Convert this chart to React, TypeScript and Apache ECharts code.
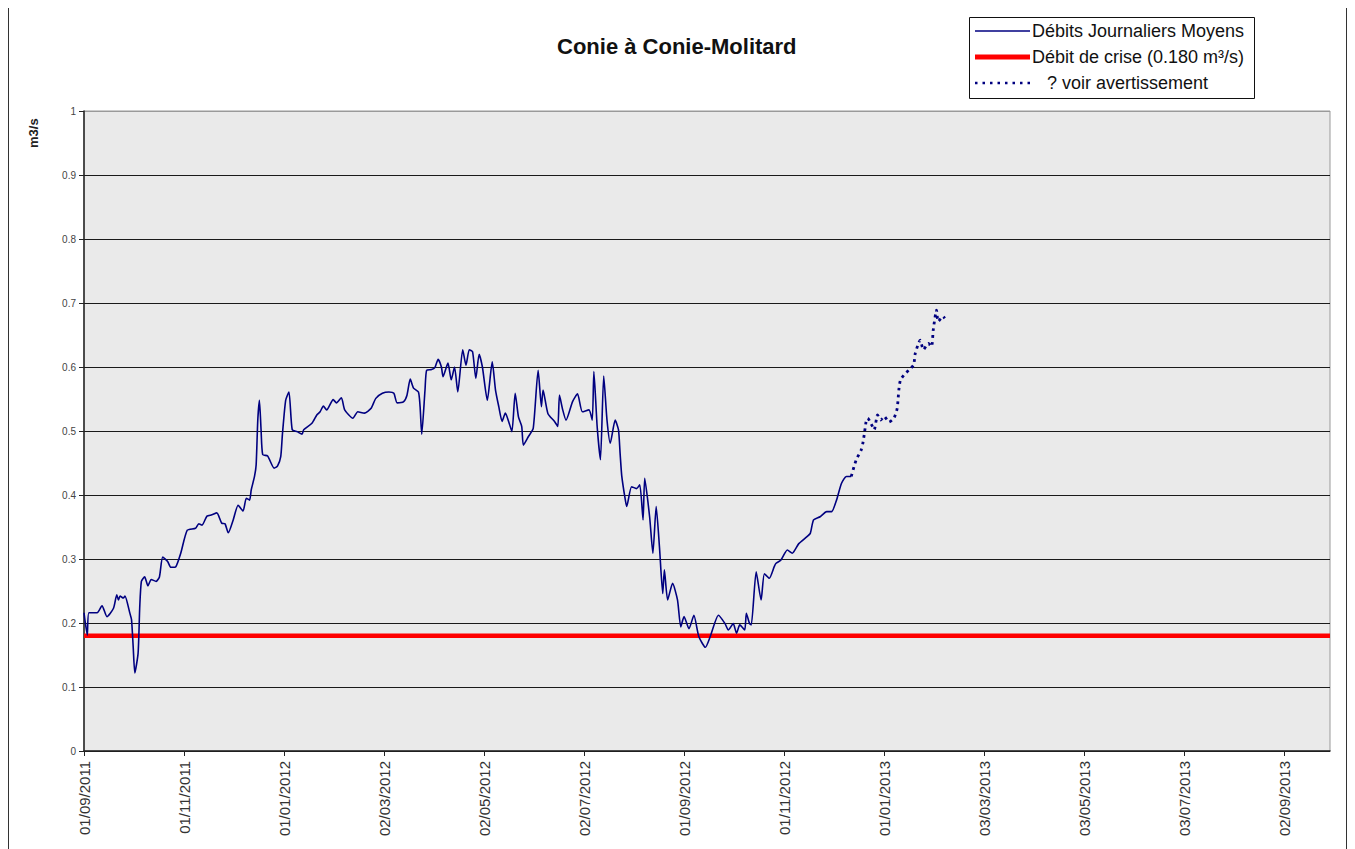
import { useEffect, useRef } from "react";
import * as echarts from "echarts";

// Day offsets from 01/09/2011 and daily mean discharge (m3/s)
const flowDays = [0, 2, 3, 8, 11, 14, 18, 20, 21, 22, 24, 25, 28, 29, 30, 31, 33, 34, 35, 37, 39, 41, 44, 46, 48, 51, 53, 56, 59, 63, 68, 70, 72, 75, 78, 81, 84, 86, 88, 91, 94, 97, 99, 101, 102, 104, 105, 106, 107, 108, 109, 112, 116, 118, 120, 121, 123, 125, 127, 130, 133, 134, 139, 142, 144, 146, 148, 152, 154, 157, 159, 164, 167, 171, 175, 178, 182, 186, 189, 191, 195, 197, 199, 201, 204, 205, 206, 208, 209, 212, 214, 216, 218, 219, 222, 224, 226, 228, 231, 233, 235, 237, 239, 241, 243, 246, 249, 251, 253, 255, 257, 259, 261, 263, 265, 267, 268, 271, 274, 277, 279, 280, 283, 287, 289, 290, 292, 294, 298, 301, 304, 308, 310, 311, 313, 315, 317, 319, 321, 324, 326, 327, 328, 330, 331, 334, 337, 339, 341, 342, 345, 347, 349, 351, 353, 354, 356, 359, 362, 364, 366, 369, 372, 375, 379, 382, 387, 391, 393, 396, 398, 400, 403, 404, 406, 407, 410, 413, 415, 418, 421, 422, 425, 429, 432, 436, 441, 443, 445, 449, 453, 456, 459, 462, 465, 468];
const flowValues = [0.216, 0.181, 0.216, 0.216, 0.227, 0.21, 0.223, 0.244, 0.236, 0.242, 0.239, 0.242, 0.215, 0.205, 0.163, 0.122, 0.153, 0.225, 0.265, 0.272, 0.258, 0.268, 0.265, 0.272, 0.303, 0.296, 0.287, 0.288, 0.309, 0.345, 0.348, 0.355, 0.353, 0.367, 0.369, 0.372, 0.356, 0.355, 0.341, 0.361, 0.384, 0.375, 0.395, 0.392, 0.408, 0.429, 0.447, 0.517, 0.548, 0.502, 0.463, 0.461, 0.442, 0.445, 0.46, 0.494, 0.548, 0.561, 0.502, 0.499, 0.495, 0.502, 0.512, 0.525, 0.53, 0.539, 0.533, 0.549, 0.544, 0.552, 0.533, 0.52, 0.53, 0.528, 0.535, 0.551, 0.559, 0.561, 0.559, 0.544, 0.546, 0.556, 0.581, 0.567, 0.561, 0.538, 0.495, 0.564, 0.595, 0.596, 0.599, 0.612, 0.6, 0.585, 0.606, 0.58, 0.6, 0.561, 0.627, 0.603, 0.627, 0.624, 0.582, 0.62, 0.6, 0.548, 0.608, 0.564, 0.538, 0.515, 0.528, 0.515, 0.499, 0.559, 0.522, 0.507, 0.478, 0.491, 0.504, 0.595, 0.538, 0.564, 0.527, 0.515, 0.507, 0.556, 0.533, 0.517, 0.546, 0.558, 0.53, 0.533, 0.517, 0.593, 0.507, 0.455, 0.586, 0.517, 0.481, 0.517, 0.502, 0.465, 0.43, 0.395, 0.382, 0.413, 0.41, 0.416, 0.361, 0.426, 0.366, 0.309, 0.382, 0.319, 0.246, 0.283, 0.236, 0.262, 0.236, 0.194, 0.21, 0.191, 0.212, 0.179, 0.162, 0.179, 0.212, 0.199, 0.189, 0.199, 0.184, 0.197, 0.189, 0.215, 0.199, 0.197, 0.28, 0.236, 0.277, 0.27, 0.288, 0.293, 0.298, 0.314, 0.309, 0.324, 0.335, 0.34, 0.361, 0.366, 0.374, 0.374, 0.392, 0.418, 0.429, 0.429];

// Provisional values ("? voir avertissement")
const warnDays = [468, 471, 474, 475, 476, 477, 478, 480, 482, 484, 486, 488, 491, 494, 496, 497, 498, 500, 503, 506, 507, 509, 510, 512, 515, 517, 518, 520, 521, 524, 525];
const warnValues = [0.429, 0.455, 0.47, 0.48, 0.496, 0.514, 0.52, 0.512, 0.502, 0.525, 0.517, 0.523, 0.514, 0.52, 0.535, 0.564, 0.58, 0.587, 0.595, 0.603, 0.621, 0.637, 0.642, 0.627, 0.637, 0.632, 0.658, 0.689, 0.671, 0.679, 0.676];

const crisisValue = 0.18;
const axisEndDay = 760;

const tickDays = [0, 61, 122, 183, 244, 305, 366, 427, 488, 549, 610, 671, 732];
const tickLabels = ["01/09/2011", "01/11/2011", "01/01/2012", "02/03/2012", "02/05/2012", "02/07/2012", "01/09/2012", "01/11/2012", "01/01/2013", "03/03/2013", "03/05/2013", "03/07/2013", "02/09/2013"];

const titleText = "Conie à Conie-Molitard";
const legendNames = ["Débits Journaliers Moyens", "Débit de crise (0.180 m³/s)", "? voir avertissement"];
const yName = "m3/s";

const FONT = "'Liberation Sans', Arial, sans-serif";
const NAVY = "#000080";

export default function App() {
  const ref = useRef<HTMLDivElement>(null);
  useEffect(() => {
    if (!ref.current) return;
    const chart = echarts.init(ref.current, null, { renderer: "svg" });
    const flowData = flowDays.map((d, i) => [d, flowValues[i]]);
    const warnData = warnDays.map((d, i) => [d, warnValues[i]]);
    const splitColors = Array.from({ length: 11 }, (_, i) => (i === 10 ? "#9a9a9a" : "#1a1a1a"));
    chart.setOption({
      animation: false,
      backgroundColor: "#ffffff",
      textStyle: { fontFamily: FONT },
      grid: {
        left: 84,
        right: 25,
        top: 111,
        bottom: 98,
        show: true,
        backgroundColor: "#eaeaea",
        borderColor: "#9a9a9a",
        borderWidth: 1,
        containLabel: false,
      },
      xAxis: {
        type: "value",
        min: 0,
        max: axisEndDay,
        interval: 61,
        axisLine: { show: true, onZero: false, lineStyle: { color: "#222", width: 1.5 } },
        axisTick: { show: true, length: 5, lineStyle: { color: "#222" }, customValues: tickDays },
        splitLine: { show: false },
        axisLabel: {
          customValues: tickDays,
          rotate: 90,
          margin: 10,
          fontSize: 15,
          color: "#333",
          fontFamily: FONT,
          formatter: (v: number) => {
            const i = tickDays.indexOf(Math.round(v));
            return i >= 0 ? tickLabels[i] : "";
          },
        },
      },
      yAxis: {
        type: "value",
        min: 0,
        max: 1,
        interval: 0.1,
        axisLine: { show: true, lineStyle: { color: "#222", width: 1.5 } },
        axisTick: { show: true, length: 5, lineStyle: { color: "#222" } },
        splitLine: { show: true, lineStyle: { color: splitColors, width: 1.2 } },
        axisLabel: {
          margin: 8,
          fontSize: 10,
          color: "#444",
          fontFamily: FONT,
          formatter: (v: number) => String(Math.round(v * 10) / 10),
        },
      },
      series: [
        {
          name: legendNames[1],
          type: "line",
          data: [[0, crisisValue], [axisEndDay, crisisValue]],
          symbol: "none",
          lineStyle: { color: "#ff0000", width: 4.5 },
          z: 3,
          silent: true,
        },
        {
          name: legendNames[0],
          type: "line",
          data: flowData,
          symbol: "none",
          smooth: 0.2,
          lineStyle: { color: NAVY, width: 1.6 },
          z: 4,
        },
        {
          name: legendNames[2],
          type: "line",
          data: warnData,
          symbol: "none",
          smooth: 0.2,
          lineStyle: { color: NAVY, width: 2.8, type: [2.8, 4], cap: "butt" },
          z: 4,
        },
      ],
      graphic: [
        {
          type: "text",
          left: 557,
          top: 35,
          style: { text: titleText, font: `bold 22px ${FONT}`, fill: "#111" },
        },
        {
          type: "text",
          x: 27,
          y: 148,
          rotation: Math.PI / 2,
          style: { text: yName, font: `bold 13px ${FONT}`, fill: "#222", textAlign: "left", textVerticalAlign: "top" },
        },
        {
          type: "rect",
          shape: { x: 969.5, y: 17.5, width: 285, height: 81 },
          style: { fill: "#ffffff", stroke: "#111", lineWidth: 1 },
          z: 10,
        },
        {
          type: "line",
          shape: { x1: 975, y1: 31, x2: 1030, y2: 31 },
          style: { stroke: NAVY, lineWidth: 1.5 },
          z: 11,
        },
        {
          type: "line",
          shape: { x1: 975, y1: 57, x2: 1030, y2: 57 },
          style: { stroke: "#ff0000", lineWidth: 5 },
          z: 11,
        },
        {
          type: "line",
          shape: { x1: 975, y1: 83, x2: 1032, y2: 83 },
          style: { stroke: NAVY, lineWidth: 2.5, lineDash: [2.5, 5] },
          z: 11,
        },
        {
          type: "text",
          x: 1032,
          y: 31,
          style: { text: legendNames[0], font: `18px ${FONT}`, fill: "#111", textVerticalAlign: "middle" },
          z: 11,
        },
        {
          type: "text",
          x: 1032,
          y: 57,
          style: { text: legendNames[1], font: `18px ${FONT}`, fill: "#111", textVerticalAlign: "middle" },
          z: 11,
        },
        {
          type: "text",
          x: 1047,
          y: 83,
          style: { text: legendNames[2], font: `18px ${FONT}`, fill: "#111", textVerticalAlign: "middle" },
          z: 11,
        },
        {
          type: "line",
          shape: { x1: 8.5, y1: 8, x2: 8.5, y2: 849 },
          style: { stroke: "#333", lineWidth: 1 },
        },
        {
          type: "line",
          shape: { x1: 1346.5, y1: 8, x2: 1346.5, y2: 849 },
          style: { stroke: "#333", lineWidth: 1 },
        },
      ],
    });
    return () => chart.dispose();
  }, []);
  return <div ref={ref} style={{ position: "absolute", left: 0, top: 0, width: 1355, height: 849 }} />;
}
